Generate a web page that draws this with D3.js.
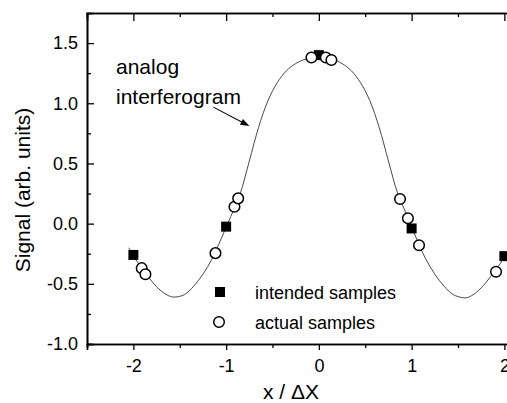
<!DOCTYPE html>
<html>
<meta charset="utf-8">
<head>
	<title>interferogram sampling</title>
	<script src="https://d3js.org/d3.v7.min.js"></script>
</head>
<body style="margin:0;background:#fff">
<svg id="chart" width="507" height="403"></svg>

<script>
	// analog interferogram
	var curveX = [-2.05, -2.0, -1.9, -1.8, -1.7, -1.6, -1.55, -1.45, -1.35, -1.25, -1.15, -1.05, -0.95, -0.85,
		-0.75, -0.65, -0.55, -0.45, -0.35, -0.25, -0.15, -0.05, 0, 0.05, 0.15, 0.25, 0.35, 0.45, 0.55, 0.65,
		0.75, 0.85, 0.95, 1.05, 1.15, 1.25, 1.35, 1.45, 1.55, 1.6, 1.7, 1.8, 1.9, 2.0, 2.05];
	var curveY = [-0.20, -0.27, -0.38, -0.48, -0.56, -0.605, -0.61, -0.59, -0.52, -0.42, -0.29, -0.12, 0.06, 0.245,
		0.52, 0.80, 1.02, 1.17, 1.27, 1.33, 1.365, 1.38, 1.385, 1.38, 1.365, 1.33, 1.27, 1.17, 1.02, 0.80,
		0.52, 0.25, 0.07, -0.12, -0.29, -0.42, -0.52, -0.59, -0.615, -0.615, -0.57, -0.49, -0.39, -0.28, -0.21];

	// intended samples (filled squares)
	var intendedX = [-2, -1, 0, 1, 2];
	var intendedY = [-0.26, -0.025, 1.40, -0.04, -0.27];

	// actual samples (open circles)
	var actualX = [-1.91, -1.87, -1.115, -0.91, -0.87, -0.08, 0.075, 0.135, 0.875, 0.96, 1.08, 1.91];
	var actualY = [-0.37, -0.42, -0.245, 0.14, 0.21, 1.38, 1.38, 1.36, 0.205, 0.045, -0.18, -0.40];

	var xTicks = [-2, -1, 0, 1, 2];
	var xMinor = [-2.5, -1.5, -0.5, 0.5, 1.5, 2.5];
	var yTicks = [-1.0, -0.5, 0.0, 0.5, 1.0, 1.5];
	var yMinor = [-0.75, -0.25, 0.25, 0.75, 1.25];

	var legendLabels = ["intended samples", "actual samples"];
	var noteLines = ["analog", "interferogram"];

	var svg = d3.select("#chart");
	var font = "'Liberation Sans', Arial, Helvetica, sans-serif";

	// plot is cropped on the right in the original figure
	var xScale = d3.scaleLinear().domain([-2.5, 2.5]).range([87, 550.75]);
	var yScale = d3.scaleLinear().domain([-1, 1.75]).range([344, 13]);

	var g = svg.append("g");

	// axes
	var axBottom = d3.axisBottom(xScale).tickValues(xTicks).tickSize(6);
	var axBottomMinor = d3.axisBottom(xScale).tickValues(xMinor).tickSize(4).tickFormat("");
	var axTop = d3.axisTop(xScale).tickValues(xTicks).tickSize(-8).tickFormat("");
	var axTopMinor = d3.axisTop(xScale).tickValues(xMinor).tickSize(-4).tickFormat("");
	var axLeft = d3.axisLeft(yScale).tickValues(yTicks).tickSize(-7);
	var axLeftMinor = d3.axisLeft(yScale).tickValues(yMinor).tickSize(-4).tickFormat("");

	function styleAxis(sel) {
		sel.selectAll("path").attr("stroke", "#000").attr("stroke-width", 1.6).attr("fill", "none");
		sel.selectAll("line").attr("stroke", "#000").attr("stroke-width", 1.3);
		sel.selectAll("text").attr("fill", "#000").style("font-family", font).style("font-size", "18px");
	}

	var bx = g.append("g").attr("transform", "translate(0," + yScale(-1) + ")").call(axBottom).call(styleAxis);
	bx.selectAll("text").text(function (d) { return d < 0 ? "-" + Math.abs(d) : String(d); }).attr("dy", "1.05em");
	g.append("g").attr("transform", "translate(0," + yScale(-1) + ")").call(axBottomMinor).call(styleAxis);
	g.append("g").attr("transform", "translate(0," + yScale(1.75) + ")").call(axTop).call(styleAxis);
	g.append("g").attr("transform", "translate(0," + yScale(1.75) + ")").call(axTopMinor).call(styleAxis);
	var ly = g.append("g").attr("transform", "translate(" + xScale(-2.5) + ",0)").call(axLeft).call(styleAxis);
	ly.selectAll("text").attr("x", -9).text(function (d) { return (d < 0 ? "-" : "") + Math.abs(d).toFixed(1); });
	g.append("g").attr("transform", "translate(" + xScale(-2.5) + ",0)").call(axLeftMinor).call(styleAxis);

	// axis titles
	svg.append("text")
		.attr("x", 291).attr("y", 399)
		.attr("text-anchor", "middle")
		.style("font-family", font).style("font-size", "21px")
		.text("x / \u0394X");
	svg.append("text")
		.attr("transform", "translate(30,190) rotate(-90)")
		.attr("text-anchor", "middle")
		.style("font-family", font).style("font-size", "21px")
		.text("Signal (arb. units)");

	// curve
	var pts = curveX.map(function (d, i) { return [d, curveY[i]]; });
	var line = d3.line()
		.x(function (d) { return xScale(d[0]); })
		.y(function (d) { return yScale(d[1]); })
		.curve(d3.curveCatmullRom);
	g.append("path")
		.datum(pts)
		.attr("d", line)
		.attr("fill", "none")
		.attr("stroke", "#333")
		.attr("stroke-width", 0.9);

	// intended samples
	var sq = 10;
	g.selectAll("rect.intended")
		.data(intendedX)
		.enter()
		.append("rect")
		.attr("class", "intended")
		.attr("x", function (d) { return xScale(d) - sq / 2; })
		.attr("y", function (d, i) { return yScale(intendedY[i]) - sq / 2; })
		.attr("width", sq).attr("height", sq)
		.attr("fill", "#000");

	// actual samples
	g.selectAll("circle.actual")
		.data(actualX)
		.enter()
		.append("circle")
		.attr("class", "actual")
		.attr("cx", function (d) { return xScale(d); })
		.attr("cy", function (d, i) { return yScale(actualY[i]); })
		.attr("r", 5.3)
		.attr("fill", "#fff")
		.attr("stroke", "#000")
		.attr("stroke-width", 1.5);

	// annotation with arrow
	noteLines.forEach(function (t, i) {
		svg.append("text")
			.attr("x", 116).attr("y", 74 + i * 30)
			.style("font-family", font).style("font-size", "21px")
			.text(t);
	});
	var a0 = [xScale(-1.137), yScale(0.968)], a1 = [xScale(-0.749), yScale(0.811)];
	var ang = Math.atan2(a1[1] - a0[1], a1[0] - a0[0]);
	svg.append("line")
		.attr("x1", a0[0]).attr("y1", a0[1])
		.attr("x2", a1[0] - 6 * Math.cos(ang)).attr("y2", a1[1] - 6 * Math.sin(ang))
		.attr("stroke", "#000").attr("stroke-width", 1.1);
	svg.append("path")
		.attr("d", "M0,0 L-9,-3.2 L-9,3.2 Z")
		.attr("transform", "translate(" + a1[0] + "," + a1[1] + ") rotate(" + (ang * 180 / Math.PI) + ")")
		.attr("fill", "#000");

	// legend
	var legend = svg.append("g");
	legend.append("rect").attr("x", 215).attr("y", 287).attr("width", sq).attr("height", sq).attr("fill", "#000");
	legend.append("circle").attr("cx", 219).attr("cy", 322).attr("r", 5.3)
		.attr("fill", "#fff").attr("stroke", "#000").attr("stroke-width", 1.5);
	legendLabels.forEach(function (t, i) {
		legend.append("text")
			.attr("x", 255).attr("y", 299 + i * 30)
			.style("font-family", font).style("font-size", "18px")
			.text(t);
	});
</script>
</body>
</html>
